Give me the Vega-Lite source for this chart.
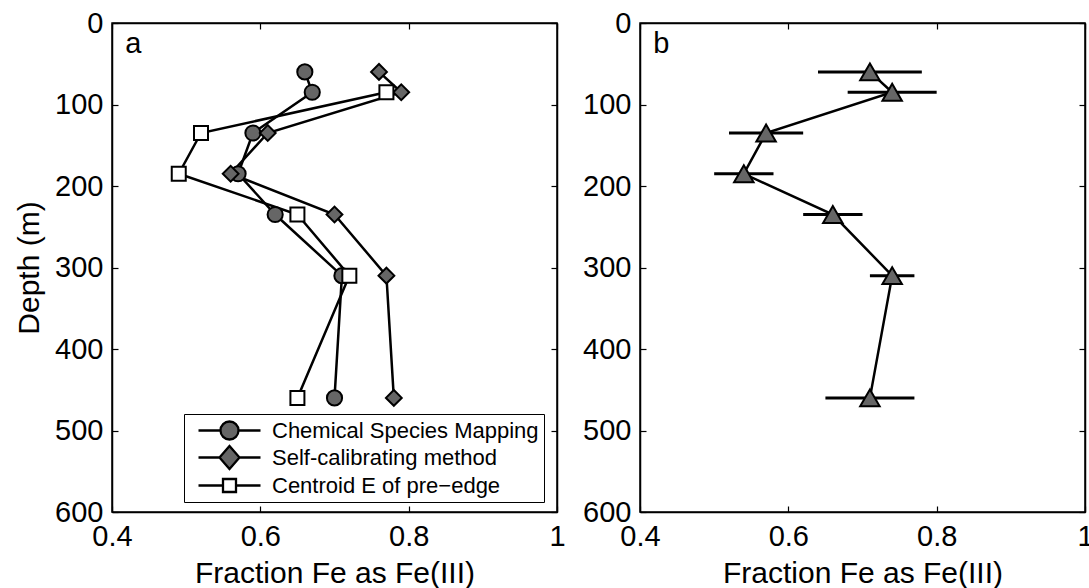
{
  "$schema": "https://vega.github.io/schema/vega-lite/v6.json",
  "padding": {"left": 13, "top": 8, "right": 0, "bottom": 0},
  "bounds": "flush",
  "spacing": 83,
  "background": "white",
  "config": {
    "font": "Liberation Sans",
    "view": {"stroke": "black", "strokeWidth": 1.5},
    "axis": {
      "labelFont": "Liberation Sans", "titleFont": "Liberation Sans",
      "labelFontSize": 29, "titleFontSize": 30, "titleFontWeight": "normal",
      "labelColor": "black", "titleColor": "black",
      "domainColor": "black", "domainWidth": 1.5,
      "tickColor": "black", "tickWidth": 1.2, "tickSize": -6,
      "grid": false, "labelFlush": false, "labelOverlap": false
    }
  },
  "datasets": {
    "a": [
      {"series": "Chemical Species Mapping", "depth": 60, "frac": 0.66},
      {"series": "Chemical Species Mapping", "depth": 85, "frac": 0.67},
      {"series": "Chemical Species Mapping", "depth": 135, "frac": 0.59},
      {"series": "Chemical Species Mapping", "depth": 185, "frac": 0.57},
      {"series": "Chemical Species Mapping", "depth": 235, "frac": 0.62},
      {"series": "Chemical Species Mapping", "depth": 310, "frac": 0.71},
      {"series": "Chemical Species Mapping", "depth": 460, "frac": 0.70},
      {"series": "Self-calibrating method", "depth": 60, "frac": 0.76},
      {"series": "Self-calibrating method", "depth": 85, "frac": 0.79},
      {"series": "Self-calibrating method", "depth": 135, "frac": 0.61},
      {"series": "Self-calibrating method", "depth": 185, "frac": 0.56},
      {"series": "Self-calibrating method", "depth": 235, "frac": 0.70},
      {"series": "Self-calibrating method", "depth": 310, "frac": 0.77},
      {"series": "Self-calibrating method", "depth": 460, "frac": 0.78},
      {"series": "Centroid E of pre\u2212edge", "depth": 85, "frac": 0.77},
      {"series": "Centroid E of pre\u2212edge", "depth": 135, "frac": 0.52},
      {"series": "Centroid E of pre\u2212edge", "depth": 185, "frac": 0.49},
      {"series": "Centroid E of pre\u2212edge", "depth": 235, "frac": 0.65},
      {"series": "Centroid E of pre\u2212edge", "depth": 310, "frac": 0.72},
      {"series": "Centroid E of pre\u2212edge", "depth": 460, "frac": 0.65}
    ],
    "b": [
      {"depth": 60, "frac": 0.71, "lo": 0.64, "hi": 0.78},
      {"depth": 85, "frac": 0.74, "lo": 0.68, "hi": 0.80},
      {"depth": 135, "frac": 0.57, "lo": 0.52, "hi": 0.62},
      {"depth": 185, "frac": 0.54, "lo": 0.50, "hi": 0.58},
      {"depth": 235, "frac": 0.66, "lo": 0.62, "hi": 0.70},
      {"depth": 310, "frac": 0.74, "lo": 0.71, "hi": 0.77},
      {"depth": 460, "frac": 0.71, "lo": 0.65, "hi": 0.77}
    ]
  },
  "hconcat": [
    {
      "width": 445, "height": 489,
      "data": {"name": "a"},
      "resolve": {"axis": {"x": "independent", "y": "independent"}},
      "layer": [
        {
          "mark": {"type": "line", "color": "black", "strokeWidth": 2.5},
          "encoding": {
            "x": {"field": "frac", "type": "quantitative", "scale": {"domain": [0.4, 1], "nice": false, "zero": false},
                  "axis": {"values": [0.4, 0.6, 0.8, 1], "format": "~g", "title": "Fraction Fe as Fe(III)", "labelPadding": 16, "titlePadding": 7}},
            "y": {"field": "depth", "type": "quantitative", "scale": {"domain": [0, 600], "reverse": true, "nice": false, "zero": false},
                  "axis": {"values": [0, 100, 200, 300, 400, 500, 600], "title": "Depth (m)", "labelPadding": 15, "titlePadding": 10}},
            "detail": {"field": "series"},
            "order": {"field": "depth"}
          }
        },
        {
          "transform": [{"filter": "datum.series === 'Chemical Species Mapping'"}],
          "mark": {"type": "point", "shape": "circle", "filled": true, "fill": "#666666", "stroke": "black", "strokeWidth": 2, "size": 230, "opacity": 1},
          "encoding": {
            "x": {"field": "frac", "type": "quantitative", "scale": {"domain": [0.4, 1], "nice": false, "zero": false}, "axis": null},
            "y": {"field": "depth", "type": "quantitative", "scale": {"domain": [0, 600], "reverse": true, "nice": false, "zero": false}, "axis": null}
          }
        },
        {
          "transform": [{"filter": "datum.series === 'Self-calibrating method'"}],
          "mark": {"type": "point", "shape": "diamond", "filled": true, "fill": "#666666", "stroke": "black", "strokeWidth": 2, "size": 250, "opacity": 1},
          "encoding": {
            "x": {"field": "frac", "type": "quantitative", "scale": {"domain": [0.4, 1], "nice": false, "zero": false}, "axis": null},
            "y": {"field": "depth", "type": "quantitative", "scale": {"domain": [0, 600], "reverse": true, "nice": false, "zero": false}, "axis": null}
          }
        },
        {
          "transform": [{"filter": "datum.series !== 'Self-calibrating method' && datum.series !== 'Chemical Species Mapping'"}],
          "mark": {"type": "point", "shape": "square", "filled": true, "fill": "white", "stroke": "black", "strokeWidth": 2, "size": 196, "opacity": 1},
          "encoding": {
            "x": {"field": "frac", "type": "quantitative", "scale": {"domain": [0.4, 1], "nice": false, "zero": false}, "axis": null},
            "y": {"field": "depth", "type": "quantitative", "scale": {"domain": [0, 600], "reverse": true, "nice": false, "zero": false}, "axis": null}
          }
        },
        {
          "mark": {"type": "point", "filled": true, "opacity": 0, "stroke": "black", "strokeWidth": 2.3},
          "encoding": {
            "x": {"field": "frac", "type": "quantitative", "scale": {"domain": [0.4, 1], "nice": false, "zero": false}, "axis": null},
            "y": {"field": "depth", "type": "quantitative", "scale": {"domain": [0, 600], "reverse": true, "nice": false, "zero": false}, "axis": null},
            "shape": {"field": "series", "type": "nominal",
              "scale": {"domain": ["Chemical Species Mapping", "Self-calibrating method", "Centroid E of pre\u2212edge"],
                        "range": ["M-0.2,0H2M3.8,0H6M3.8,0A0.9,0.9,0,1,1,2,0A0.9,0.9,0,1,1,3.8,0Z",
                                  "M-0.2,0H1.9M3.9,0H6M1.9,0L2.9,-1.15L3.9,0L2.9,1.15Z",
                                  "M-0.2,0H2.25M3.55,0H6M2.25,-0.65H3.55V0.65H2.25Z"]},
              "legend": {"title": null, "orient": "none", "legendX": 72, "legendY": 391, "padding": 5, "strokeColor": "black", "fillColor": "white",
                         "labelFontSize": 22, "labelFont": "Liberation Sans", "labelColor": "black", "labelLimit": 400, "labelOffset": 60,
                         "symbolSize": 400, "symbolStrokeColor": "black", "symbolStrokeWidth": 2.3, "symbolOpacity": 1, "rowPadding": -4,
                         "encode": {"symbols": {"update": {"stroke": {"value": "black"}, "strokeWidth": {"value": 2.3}, "opacity": {"value": 1}, "strokeOpacity": {"value": 1}}}}}},
            "fill": {"field": "series", "type": "nominal",
              "scale": {"domain": ["Chemical Species Mapping", "Self-calibrating method", "Centroid E of pre\u2212edge"],
                        "range": ["#666666", "#666666", "#ffffff"]},
              "legend": {"title": null, "orient": "none", "legendX": 72, "legendY": 391, "padding": 5, "strokeColor": "black", "fillColor": "white",
                         "labelFontSize": 22, "labelFont": "Liberation Sans", "labelColor": "black", "labelLimit": 400, "labelOffset": 60,
                         "symbolSize": 400, "symbolStrokeColor": "black", "symbolStrokeWidth": 2.3, "symbolOpacity": 1, "rowPadding": -4,
                         "encode": {"symbols": {"update": {"stroke": {"value": "black"}, "strokeWidth": {"value": 2.3}, "opacity": {"value": 1}, "strokeOpacity": {"value": 1}}}}}}
          }
        },
        {
          "data": {"values": [{"label": "a"}]},
          "mark": {"type": "text", "fontSize": 29, "align": "left", "baseline": "alphabetic", "color": "black", "font": "Liberation Sans"},
          "encoding": {
            "text": {"field": "label"},
            "x": {"datum": 0.418, "type": "quantitative", "scale": {"domain": [0.4, 1], "nice": false, "zero": false},
                  "axis": {"orient": "top", "labels": false, "title": null, "values": [0.4, 0.6, 0.8, 1]}},
            "y": {"datum": 37, "type": "quantitative", "scale": {"domain": [0, 600], "reverse": true, "nice": false, "zero": false},
                  "axis": {"orient": "right", "labels": false, "title": null, "values": [0, 100, 200, 300, 400, 500, 600]}}
          }
        }
      ]
    },
    {
      "width": 445, "height": 489,
      "data": {"name": "b"},
      "resolve": {"axis": {"x": "independent", "y": "independent"}},
      "layer": [
        {
          "mark": {"type": "line", "color": "black", "strokeWidth": 2.5},
          "encoding": {
            "x": {"field": "frac", "type": "quantitative", "scale": {"domain": [0.4, 1], "nice": false, "zero": false},
                  "axis": {"values": [0.4, 0.6, 0.8, 1], "format": "~g", "title": "Fraction Fe as Fe(III)", "labelPadding": 16, "titlePadding": 7}},
            "y": {"field": "depth", "type": "quantitative", "scale": {"domain": [0, 600], "reverse": true, "nice": false, "zero": false},
                  "axis": {"values": [0, 100, 200, 300, 400, 500, 600], "title": null, "labelPadding": 15}},
            "order": {"field": "depth"}
          }
        },
        {
          "mark": {"type": "rule", "color": "black", "strokeWidth": 3},
          "encoding": {
            "x": {"field": "lo", "type": "quantitative", "scale": {"domain": [0.4, 1], "nice": false, "zero": false}, "axis": null},
            "x2": {"field": "hi"},
            "y": {"field": "depth", "type": "quantitative", "scale": {"domain": [0, 600], "reverse": true, "nice": false, "zero": false}, "axis": null}
          }
        },
        {
          "mark": {"type": "point", "shape": "triangle-up", "filled": true, "fill": "#666666", "stroke": "black", "strokeWidth": 2, "size": 380, "opacity": 1},
          "encoding": {
            "x": {"field": "frac", "type": "quantitative", "scale": {"domain": [0.4, 1], "nice": false, "zero": false}, "axis": null},
            "y": {"field": "depth", "type": "quantitative", "scale": {"domain": [0, 600], "reverse": true, "nice": false, "zero": false}, "axis": null}
          }
        },
        {
          "data": {"values": [{"label": "b"}]},
          "mark": {"type": "text", "fontSize": 29, "align": "left", "baseline": "alphabetic", "color": "black", "font": "Liberation Sans"},
          "encoding": {
            "text": {"field": "label"},
            "x": {"datum": 0.418, "type": "quantitative", "scale": {"domain": [0.4, 1], "nice": false, "zero": false},
                  "axis": {"orient": "top", "labels": false, "title": null, "values": [0.4, 0.6, 0.8, 1]}},
            "y": {"datum": 37, "type": "quantitative", "scale": {"domain": [0, 600], "reverse": true, "nice": false, "zero": false},
                  "axis": {"orient": "right", "labels": false, "title": null, "values": [0, 100, 200, 300, 400, 500, 600]}}
          }
        }
      ]
    }
  ]
}
